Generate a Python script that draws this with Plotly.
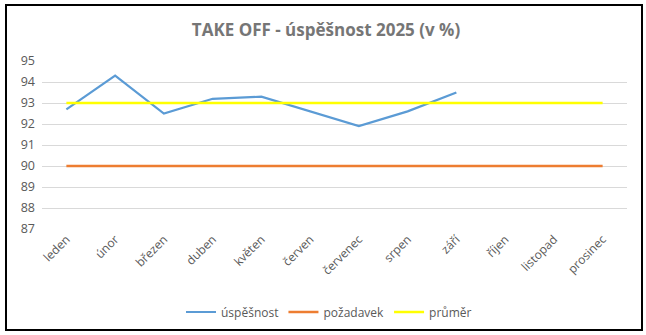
import plotly.graph_objects as go

months = ["leden", "únor", "březen", "duben", "květen", "červen",
          "červenec", "srpen", "září", "říjen", "listopad", "prosinec"]
uspesnost = [92.7, 94.3, 92.5, 93.2, 93.3, 92.6, 91.9, 92.6, 93.5, None, None, None]
pozadavek = [90, 90, 90, 90, 90, 90, 90, 90, 90, 90, 90, 90]
prumer = [93, 93, 93, 93, 93, 93, 93, 93, 93, 93, 93, 93]
y_ticks = [87, 88, 89, 90, 91, 92, 93, 94, 95]

W, H = 646, 335
L, R, T, B = 42, 19, 61, 106
pw, ph = W - L - R, H - T - B

def px_x(x):
    return (x - L) / pw

def px_y(y):
    return (H - B - y) / ph

fig = go.Figure()
fig.add_trace(go.Scatter(x=months, y=uspesnost, name="úspěšnost", mode="lines",
                         line=dict(color="#5b9bd5", width=2.2)))
fig.add_trace(go.Scatter(x=months, y=pozadavek, name="požadavek", mode="lines",
                         line=dict(color="#ed7d31", width=2.5)))
fig.add_trace(go.Scatter(x=months, y=prumer, name="průměr", mode="lines",
                         line=dict(color="#ffff00", width=2.5)))

fig.update_layout(
    width=W, height=H,
    margin=dict(l=L, r=R, t=T, b=B),
    paper_bgcolor="white", plot_bgcolor="white",
    font=dict(family="Open Sans, sans-serif", color="#595959", size=12),
    title=dict(text="<b>TAKE OFF - úspěšnost 2025 (v %)</b>",
               x=326 / W, xanchor="center", xref="container",
               y=1 - 30 / H, yanchor="middle", yref="container",
               font=dict(size=17, color="#767676", family="Open Sans, sans-serif")),
    xaxis=dict(type="category", range=[-0.5, 11.5], tickangle=-45,
               showgrid=False, showline=False, ticks="", zeroline=False,
               tickfont=dict(size=12, color="#595959")),
    yaxis=dict(range=[87, 95], tickvals=y_ticks, showgrid=True,
               gridcolor="#d9d9d9", gridwidth=1, zeroline=False,
               showline=False, ticks="", ticklabelstandoff=6,
               tickfont=dict(size=12.5, color="#595959")),
    legend=dict(orientation="h", xref="container", yref="container",
                x=329 / W, xanchor="center", y=1 - 312 / H, yanchor="middle",
                font=dict(size=12, color="#595959"), itemwidth=30,
                tracegroupgap=0),
    showlegend=True,
    shapes=[dict(type="rect", xref="paper", yref="paper",
                 x0=px_x(6), x1=px_x(642), y0=px_y(5), y1=px_y(330),
                 line=dict(color="black", width=2), fillcolor="rgba(0,0,0,0)",
                 layer="above")],
)

fig.write_html("out.html")
